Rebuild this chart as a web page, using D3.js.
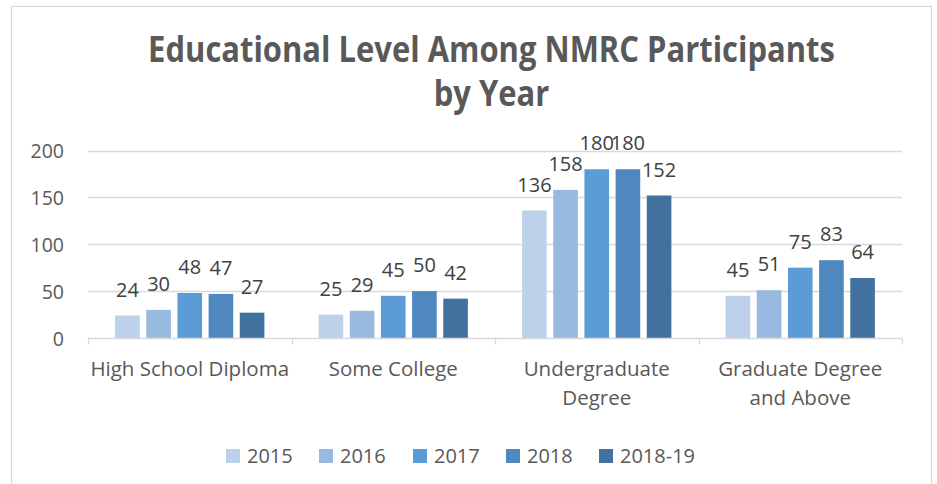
<!DOCTYPE html>
<html><head><meta charset="utf-8">
<script src="https://cdn.jsdelivr.net/npm/d3@7"></script>
<style>body{margin:0;background:#fff}svg{display:block}</style>
</head><body>
<svg id="c" width="937" height="484"></svg>
<script>
const categories = [["High School Diploma"], ["Some College"], ["Undergraduate", "Degree"], ["Graduate Degree", "and Above"]];
const seriesNames = ["2015", "2016", "2017", "2018", "2018-19"];
const v2015 = [24, 25, 136, 45];
const v2016 = [30, 29, 158, 51];
const v2017 = [48, 45, 180, 75];
const v2018 = [47, 50, 180, 83];
const v201819 = [27, 42, 152, 64];
const yTicks = [0, 50, 100, 150, 200];
const colors = ["#bdd1ea", "#98b9e0", "#5b9bd6", "#4e88bf", "#41729f"];

const series = [v2015, v2016, v2017, v2018, v201819];
const svg = d3.select("#c");
const font = "'Open Sans', sans-serif";

// chart border
svg.append("rect").attr("x", 11.5).attr("y", 6.5).attr("width", 920).attr("height", 490)
  .attr("fill", "#fff").attr("stroke", "#d9d9d9").attr("stroke-width", 1.2);

const x0 = d3.scaleBand().domain(d3.range(categories.length)).range([88, 902]).paddingInner(0).paddingOuter(0);
const x1 = d3.scaleBand().domain(d3.range(seriesNames.length)).range([0, x0.bandwidth()]).paddingInner(0.21).paddingOuter(0.87);
const y = d3.scaleLinear().domain([0, 200]).range([338, 150.5]);

// gridlines
svg.append("g").selectAll("line").data(yTicks.filter(t => t > 0)).join("line")
  .attr("x1", 88).attr("x2", 902).attr("y1", d => Math.round(y(d)) + 0.5).attr("y2", d => Math.round(y(d)) + 0.5)
  .attr("stroke", "#d9d9d9").attr("stroke-width", 1.3);

// y axis labels
const yAxis = d3.axisLeft(y).tickValues(yTicks).tickSize(0).tickPadding(0);
const gy = svg.append("g").attr("transform", "translate(64,0)").call(yAxis);
gy.select(".domain").remove();
gy.selectAll("text").attr("font-family", font).attr("font-size", 19.5).attr("fill", "#595959").attr("dy", "0.36em");

// bars
const groups = svg.append("g").selectAll("g").data(categories).join("g")
  .attr("transform", (d, i) => `translate(${x0(i)},0)`);
groups.selectAll("rect").data((d, i) => series.map((s, j) => ({ j, v: s[i] }))).join("rect")
  .attr("x", d => x1(d.j)).attr("width", x1.bandwidth())
  .attr("y", d => y(d.v)).attr("height", d => y(0) - y(d.v))
  .attr("fill", d => colors[d.j]);
groups.selectAll("text").data((d, i) => series.map((s, j) => ({ j, v: s[i] }))).join("text")
  .attr("x", d => x1(d.j) + x1.bandwidth() / 2).attr("y", d => y(d.v) - 19)
  .attr("text-anchor", "middle").attr("font-family", font).attr("font-size", 20).attr("fill", "#404040")
  .text(d => d.v);

// x axis
const xAxis = d3.axisBottom(x0).tickSize(0).tickFormat("");
const gx = svg.append("g").attr("transform", "translate(0,338.5)").call(xAxis);
gx.select(".domain").attr("stroke", "#d9d9d9").attr("stroke-width", 1.3).attr("d", "M88,0H902");
gx.selectAll(".tick").remove();
gx.selectAll("line.sep").data(d3.range(categories.length + 1)).join("line").attr("class", "sep")
  .attr("x1", i => Math.round(i < categories.length ? x0(i) : x0.range()[1]) + 0.5)
  .attr("x2", i => Math.round(i < categories.length ? x0(i) : x0.range()[1]) + 0.5)
  .attr("y1", 0).attr("y2", 6).attr("stroke", "#d9d9d9").attr("stroke-width", 1.3);

const catText = svg.append("g").selectAll("text").data(categories).join("text")
  .attr("text-anchor", "middle").attr("font-family", font).attr("font-size", 20.5).attr("fill", "#595959")
  .attr("transform", (d, i) => `translate(${x0(i) + x0.bandwidth() / 2},376)`);
catText.selectAll("tspan").data(d => d).join("tspan").attr("x", 0).attr("dy", (d, k) => k === 0 ? 0 : 29).text(d => d);

// title
const tg = svg.append("g");
const tt = tg.append("text").attr("text-anchor", "middle").attr("font-family", font).attr("font-weight", 700)
  .attr("font-size", 35).attr("fill", "#595959");
tt.append("tspan").attr("x", 0).attr("y", 62).text("Educational Level Among NMRC Participants");
tt.append("tspan").attr("x", 0).attr("y", 106).text("by Year");
const w1 = tt.select("tspan").node().getComputedTextLength();
tg.attr("transform", `translate(491.5,0) scale(${687 / w1},1)`);

// legend
const lx = [226, 319, 413, 506, 599];
const lg = svg.append("g").selectAll("g").data(seriesNames).join("g")
  .attr("transform", (d, i) => `translate(${lx[i]},0)`);
lg.append("rect").attr("x", 0).attr("y", 449).attr("width", 14).attr("height", 14).attr("fill", (d, i) => colors[i]);
lg.append("text").attr("x", 21).attr("y", 463).attr("font-family", font).attr("font-size", 20).attr("fill", "#595959").text(d => d);
</script>
</body></html>
